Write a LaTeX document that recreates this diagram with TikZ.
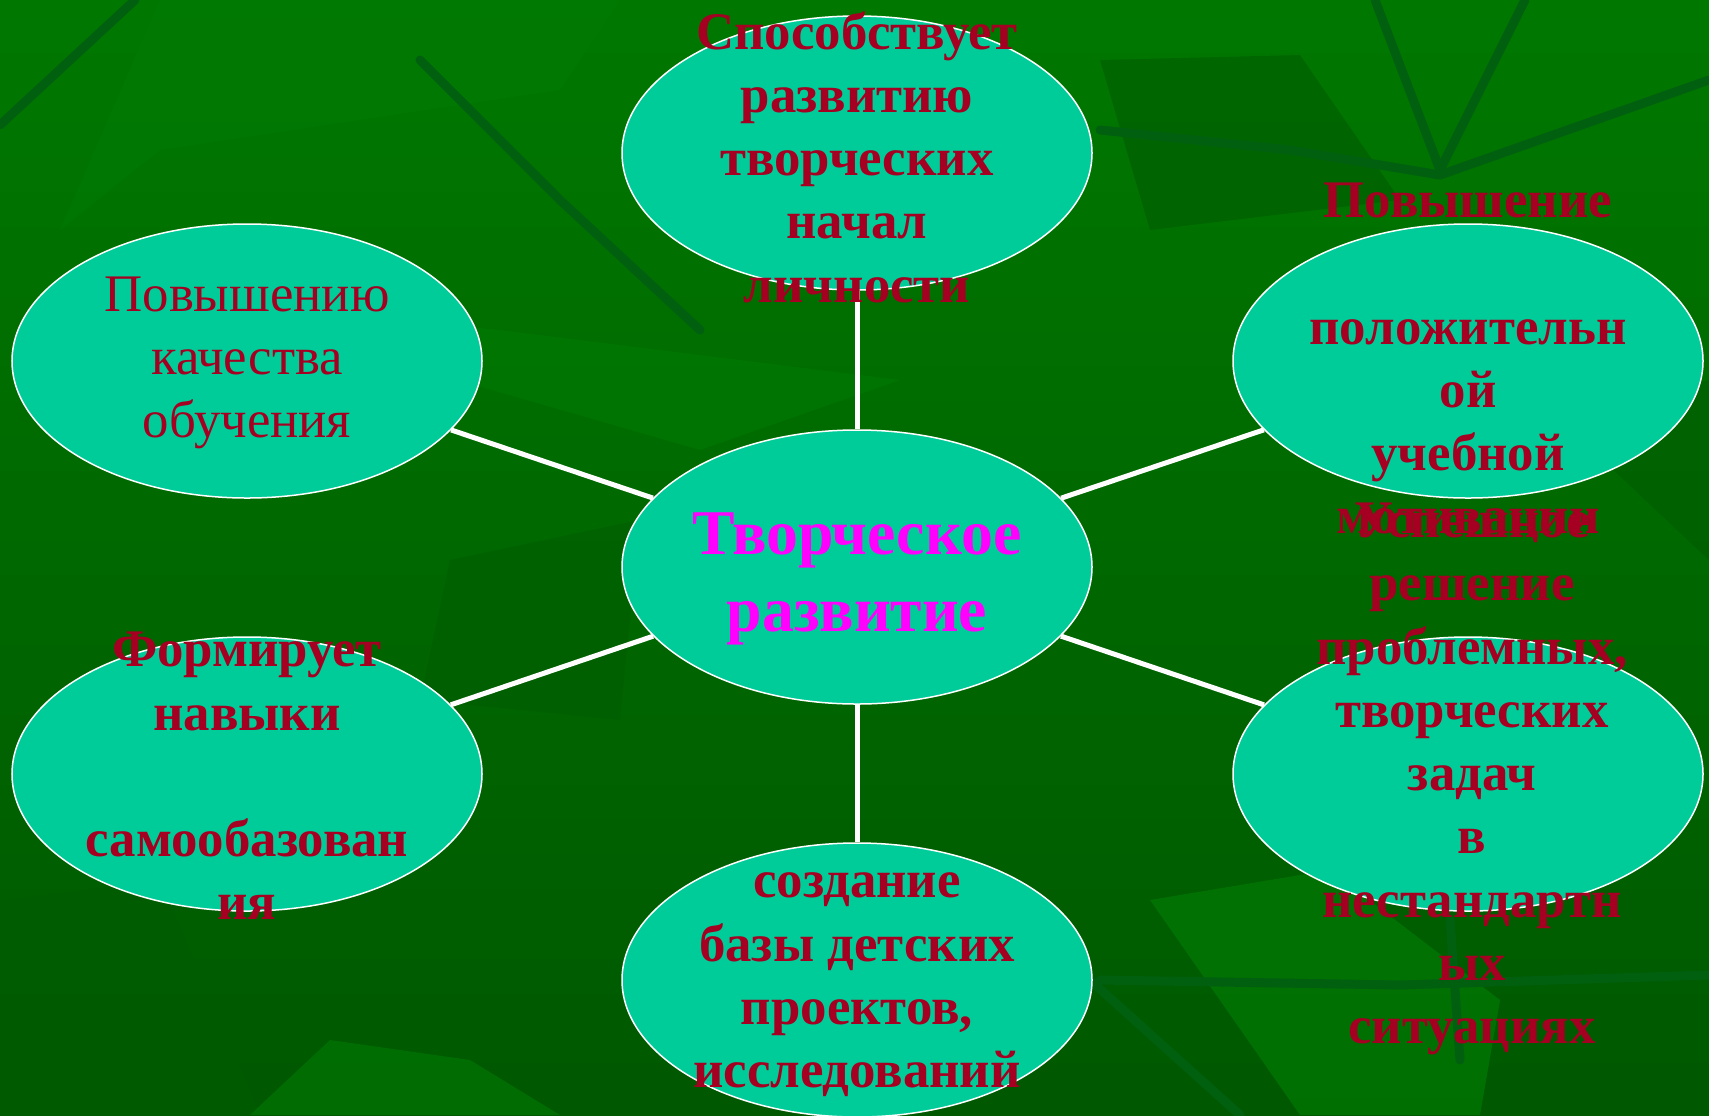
\documentclass[tikz,border=0pt]{standalone}
\usepackage{fontspec}
\setmainfont{Liberation Serif}
\usetikzlibrary{shapes.geometric}
\definecolor{leaftop}{RGB}{0,120,0}
\definecolor{leafbot}{RGB}{0,88,0}
\definecolor{leaflight}{RGB}{0,122,4}
\definecolor{leafdark}{RGB}{0,92,0}
\definecolor{stem}{RGB}{0,96,16}
\definecolor{turq}{RGB}{0,204,153}
\definecolor{wine}{RGB}{165,0,33}
\definecolor{pinkish}{RGB}{255,0,255}

\begin{document}
\begin{tikzpicture}[x=1bp,y=-1bp,
    oval/.style={ellipse,fill=turq,draw=white,line width=1.5bp,
                 minimum width=470bp,minimum height=274bp,inner sep=0pt},
    txt/.style={align=center,text=wine,font=\fontsize{53}{63.5}\selectfont\bfseries},
    link/.style={draw=white,line width=5bp},
    stemline/.style={draw=stem,line width=9bp,line cap=round,line join=round}]
            % background with leaves
            \shade[top color=leaftop,bottom color=leafbot] (0,0) rectangle (1709,1115);
            \useasboundingbox (0,0) rectangle (1709,1115);
            \fill[leaflight,opacity=.6] (160,0) -- (620,0) -- (560,90) -- (160,150) -- (60,230) -- cycle;
            \fill[leaflight,opacity=.6] (180,300) -- (500,330) -- (900,380) -- (700,450) -- cycle;
            \fill[leafdark,opacity=.6] (1100,60) -- (1300,55) -- (1400,200) -- (1150,230) -- cycle;
            \fill[leafdark,opacity=.7] (0,900) -- (160,880) -- (260,1115) -- (0,1115) -- cycle;
            \fill[leaflight,opacity=.7] (1150,900) -- (1330,870) -- (1500,1000) -- (1480,1115) -- (1300,1115) -- cycle;
            \fill[leafdark,opacity=.6] (1560,420) -- (1709,380) -- (1709,560) -- cycle;
            \fill[leafdark,opacity=.5] (450,560) -- (640,520) -- (620,720) -- (420,700) -- cycle;
            \fill[leaflight,opacity=.6] (250,1115) -- (330,1040) -- (470,1060) -- (560,1115) -- cycle;
            % stems
            \draw[stemline] (0,125) -- (135,0);
            \draw[stemline] (1375,0) -- (1440,170);
            \draw[stemline] (1525,0) -- (1440,170);
            \draw[stemline] (1100,130) -- (1290,150) -- (1440,175) -- (1709,80);
            \draw[stemline] (420,60) -- (560,200) -- (700,330);
            \draw[stemline] (1090,980) -- (1240,1115);
            \draw[stemline] (1100,980) -- (1400,985) -- (1709,975);
            \draw[stemline] (1450,920) -- (1460,1060);

            % ovals
            \node[oval] (ct)  at (857,567) {};
            \node[oval] (top) at (857,153) {};
            \node[oval] (bot) at (857,980) {};
            \node[oval] (lt)  at (247,361) {};
            \node[oval] (lb)  at (247,774) {};
            \node[oval] (rt)  at (1468,361) {};
            \node[oval] (rb)  at (1468,774) {};

            \begin{scope}[link]
                \draw (ct) -- (top);
                \draw (ct) -- (bot);
                \draw (ct) -- (lt);
                \draw (ct) -- (lb);
                \draw (ct) -- (rt);
                \draw (ct) -- (rb);
            \end{scope}

            % texts
            \node[txt,text=pinkish,font=\fontsize{64}{77}\selectfont\bfseries] (tct) at (857,579) {Творческое\\развитие};
            \node[txt] (ttop) at (857,157) {Способствует\\развитию\\творческих\\начал\\личности};
            \node[txt] (tbot) at (857,985) {создание\\базы детских\\проектов,\\исследований};
            \node[txt,font=\fontsize{53}{63.5}\selectfont] (tlt) at (247,363) {Повышению\\качества\\обучения};
            \node[txt] (tlb) at (247,776) {Формирует\\навыки\\\strut\\самообазован\\ия};
            \node[txt] (trt) at (1468,363) {Повышение\\\strut\\положительн\\ой\\учебной\\мотивации};
            \node[txt] (trb) at (1472,779) {Успешное\\решение\\проблемных,\\творческих\\задач\\в\\нестандартн\\ых\\ситуациях};
        \end{tikzpicture}
\end{document}
